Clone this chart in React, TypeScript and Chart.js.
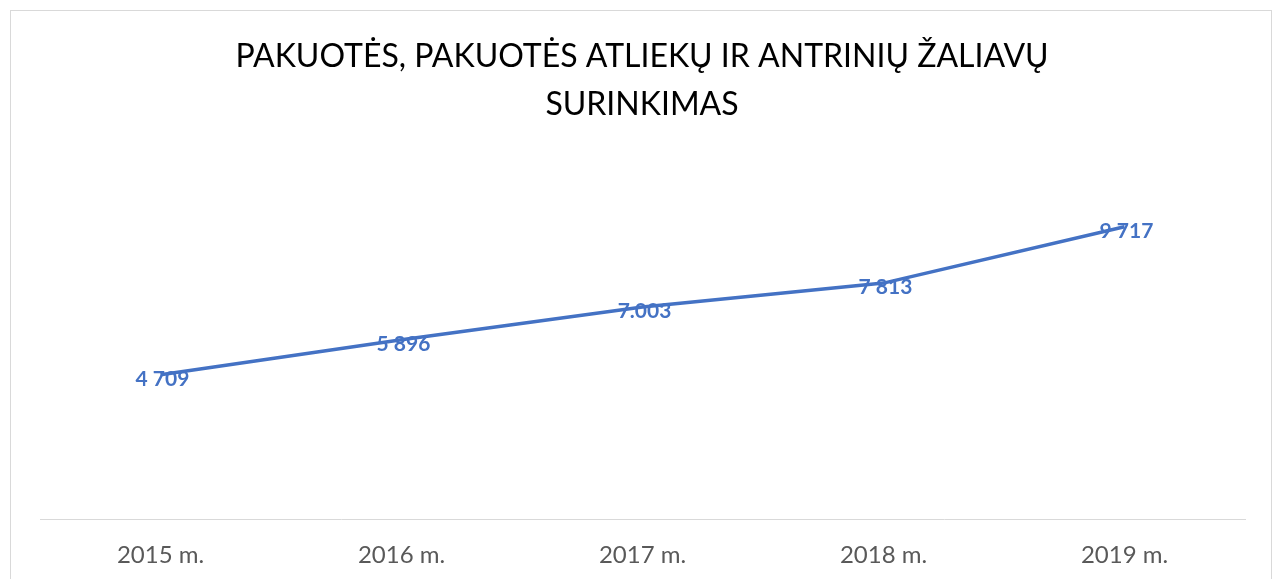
import React, { useEffect, useRef } from "react";
import { Chart, registerables } from "chart.js";

Chart.register(...registerables);

const categories = ["2015 m.", "2016 m.", "2017 m.", "2018 m.", "2019 m."];
const values = [4709, 5896, 7003, 7813, 9717];
const valueLabels = ["4 709", "5 896", "7.003", "7 813", "9 717"];
const titleLines = ["PAKUOTĖS, PAKUOTĖS ATLIEKŲ IR ANTRINIŲ ŽALIAVŲ", "SURINKIMAS"];

const BLUE = "#4472C4";
const FONT = "Lato, 'Open Sans', sans-serif";

const framePlugin = {
  id: "frame",
  beforeDraw(chart: any) {
    const ctx = chart.ctx;
    ctx.save();
    ctx.fillStyle = "#ffffff";
    ctx.fillRect(0, 0, chart.width, chart.height);
    ctx.strokeStyle = "#d9d9d9";
    ctx.lineWidth = 1;
    ctx.strokeRect(10.5, 10.5, 1261, 620);
    ctx.fillStyle = "#000000";
    ctx.font = `32px ${FONT}`;
    ctx.textAlign = "center";
    ctx.textBaseline = "alphabetic";
    ctx.fillText(titleLines[0], 642, 67);
    ctx.fillText(titleLines[1], 642, 115);
    ctx.restore();
  },
};

const labelPlugin = {
  id: "valueLabels",
  afterDatasetsDraw(chart: any) {
    const ctx = chart.ctx;
    const meta = chart.getDatasetMeta(0);
    ctx.save();
    ctx.fillStyle = BLUE;
    ctx.font = `bold 21px ${FONT}`;
    ctx.textAlign = "center";
    ctx.textBaseline = "middle";
    meta.data.forEach((pt: any, i: number) => {
      ctx.fillText(valueLabels[i], pt.x + 2, pt.y + 4);
    });
    ctx.restore();
  },
};

export default function App() {
  const ref = useRef<HTMLCanvasElement>(null);
  useEffect(() => {
    const chart = new Chart(ref.current!, {
      type: "line",
      data: {
        labels: categories,
        datasets: [
          {
            data: values,
            borderColor: BLUE,
            borderWidth: 3.5,
            pointRadius: 0,
            tension: 0,
            fill: false,
          },
        ],
      },
      options: {
        responsive: false,
        animation: false,
        layout: { padding: { top: 170, left: 40, right: 35, bottom: 0 } },
        plugins: { legend: { display: false }, title: { display: false }, tooltip: { enabled: false } },
        scales: {
          x: {
            offset: true,
            grid: { display: false },
            border: { display: true, color: "#d9d9d9", width: 1 },
            ticks: { color: "#595959", font: { family: FONT, size: 24 }, padding: 14 },
            afterFit: (s: any) => {
              s.height = 60;
            },
          },
          y: { display: false, min: -170, max: 11640 },
        },
      },
      plugins: [framePlugin, labelPlugin],
    });
    return () => chart.destroy();
  }, []);
  return (
    <div style={{ position: "fixed", left: 0, top: 0, width: 1280, height: 579, overflow: "hidden" }}>
      <canvas ref={ref} width={1280} height={579} style={{ display: "block" }} />
    </div>
  );
}
